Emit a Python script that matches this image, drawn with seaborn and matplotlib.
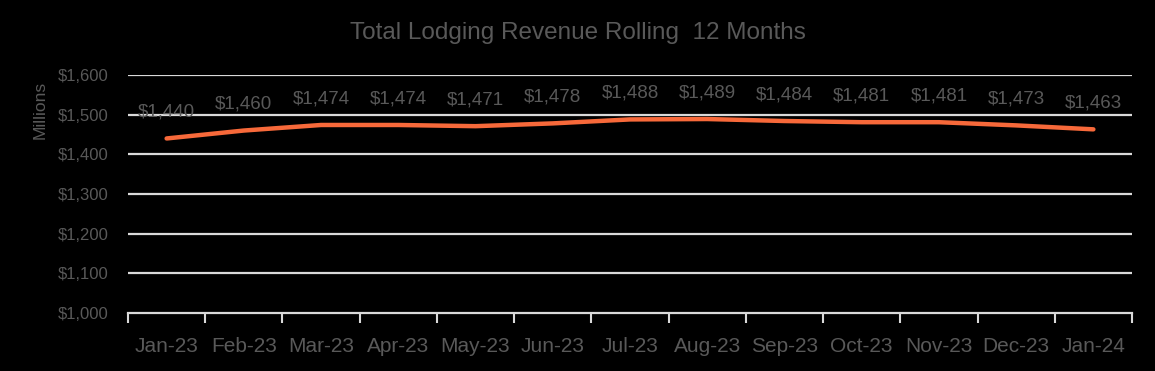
import matplotlib
matplotlib.use("Agg")
import matplotlib.pyplot as plt
import seaborn as sns
import pandas as pd

months = ["Jan-23", "Feb-23", "Mar-23", "Apr-23", "May-23", "Jun-23", "Jul-23",
          "Aug-23", "Sep-23", "Oct-23", "Nov-23", "Dec-23", "Jan-24"]
revenue = [1440, 1460, 1474, 1474, 1471, 1478, 1488, 1489, 1484, 1481, 1481, 1473, 1463]
yticks = [1000, 1100, 1200, 1300, 1400, 1500, 1600]
title = "Total Lodging Revenue Rolling  12 Months"

sns.set_theme(style="dark")
plt.rcParams["font.family"] = ["Liberation Sans", "DejaVu Sans"]

TXT = "#595959"
GRID = "#d9d9d9"
LINE = "#F7693A"

df = pd.DataFrame({"idx": list(range(len(months))), "rev": revenue})

fig = plt.figure(figsize=(11.55, 3.71), dpi=100, facecolor="black")
ax = fig.add_axes([128/1155, 1 - 313/371, (1132-128)/1155, (313-75)/371])
ax.set_facecolor("black")

sns.lineplot(data=df, x="idx", y="rev", ax=ax, color=LINE, linewidth=3.2, zorder=3)

ax.set_xlim(-0.5, len(months) - 0.5)
ax.set_ylim(1000, 1600)
ax.set_yticks(yticks)
ax.set_yticklabels([f"${v:,}" for v in yticks], color=TXT, fontsize=12)
ax.set_xticks(range(len(months)))
ax.set_xticklabels(months, color=TXT, fontsize=15)
ax.set_xticks([i - 0.5 for i in range(len(months) + 1)], minor=True)
ax.tick_params(axis="x", which="major", bottom=False, length=0, pad=17)
ax.tick_params(axis="x", which="minor", bottom=True, length=7, width=1.5,
               color=GRID, direction="out")
ax.tick_params(axis="y", left=False, length=0, pad=14)

ax.grid(False)
for v in yticks[1:]:
    ax.axhline(v, color=GRID, linewidth=1.6, zorder=1)
for s in ["top", "right", "left"]:
    ax.spines[s].set_visible(False)
ax.spines["bottom"].set_color(GRID)
ax.spines["bottom"].set_linewidth(1.6)

for i, v in enumerate(revenue):
    ax.annotate(f"${v:,}", (i, v), xytext=(0, 19), textcoords="offset points",
                ha="center", va="center", color=TXT, fontsize=13.5, zorder=4)

ax.set_xlabel("")
ax.set_ylabel("Millions", color=TXT, fontsize=12.5, va="center")
ax.yaxis.set_label_coords((40 - 128) / 1004, (313 - 110) / 238)
fig.text(578/1155, 1 - 33/371, title, ha="center", va="center", color=TXT, fontsize=17.5)

fig.savefig("out.png", dpi=100, facecolor="black")
